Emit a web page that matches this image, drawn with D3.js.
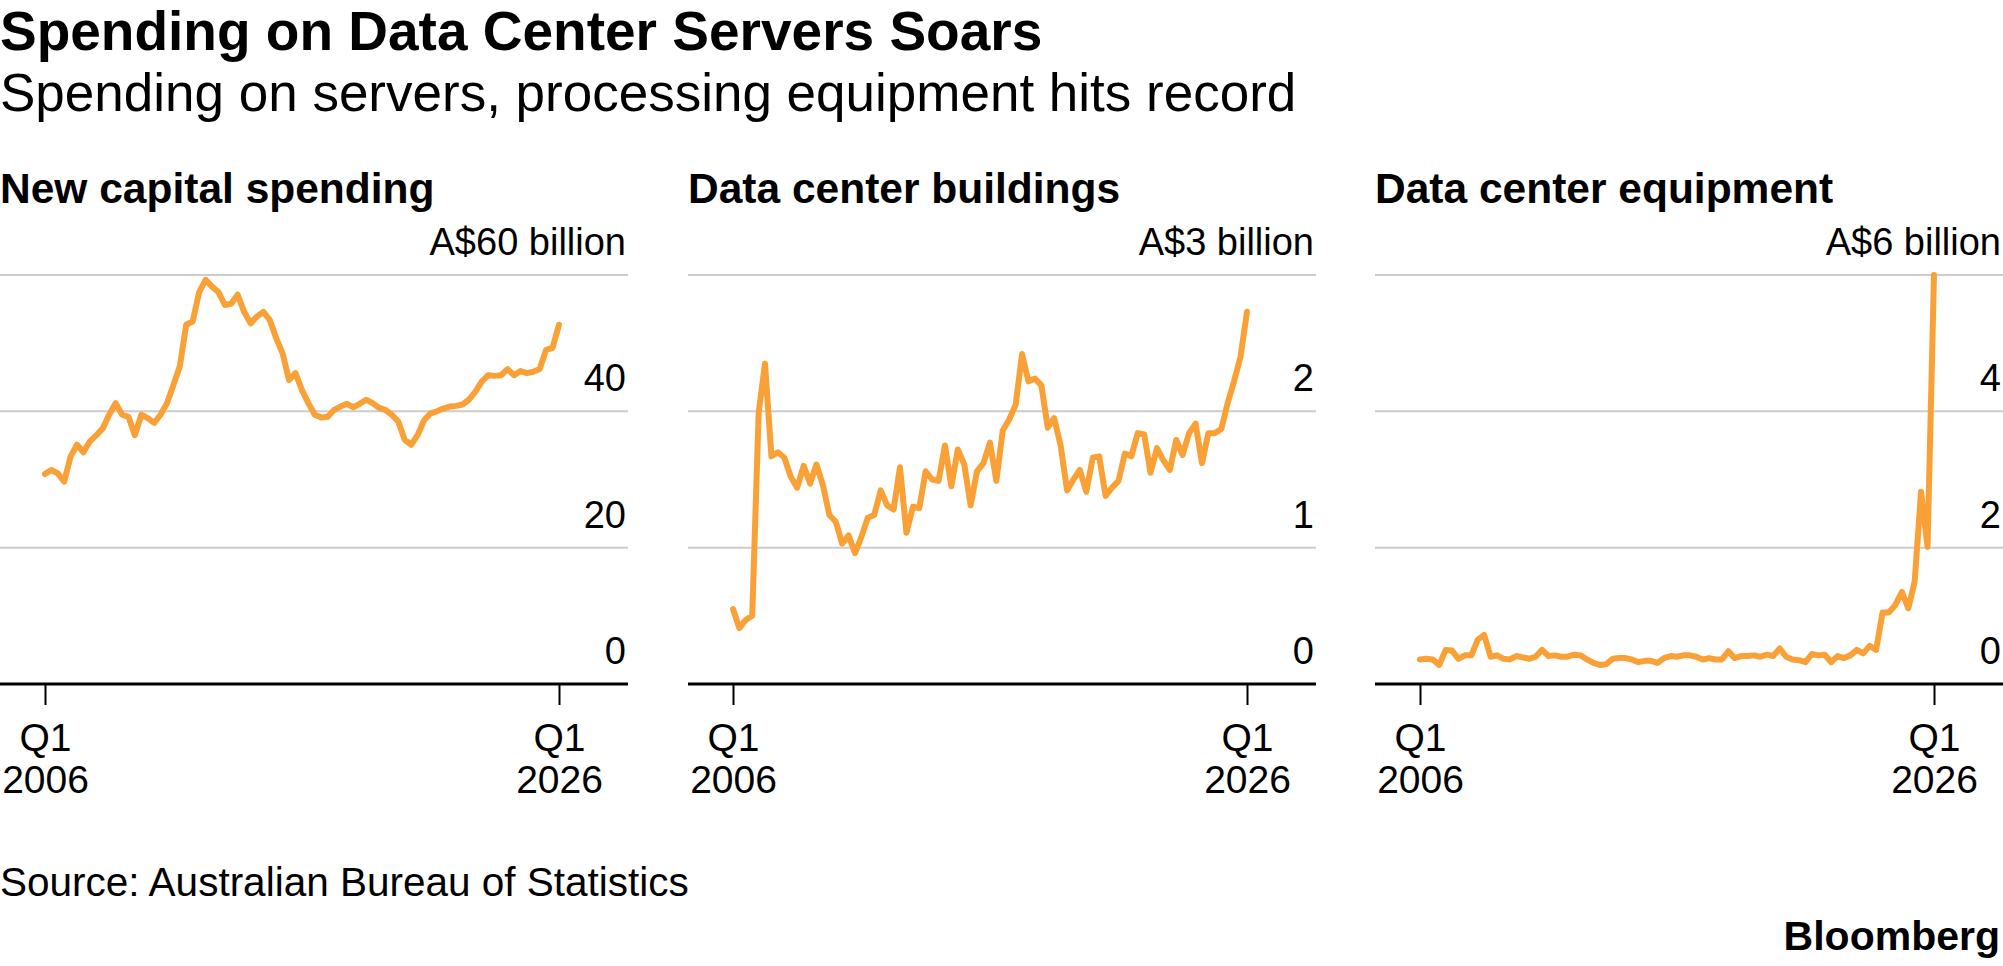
<!DOCTYPE html>
<html>
<head>
<meta charset="utf-8">
<script src="https://cdn.jsdelivr.net/npm/d3@7"></script>
<style>
  body { margin: 0; background: #fff; }
  svg { display: block; }
  text { font-family: "Liberation Sans", Arial, sans-serif; fill: #000; }
</style>
</head>
<body>
<div id="chart"></div>
<script>
// quarterly, Q1 2006 .. Q1 2026
var quarters = d3.timeMonth.every(3).range(new Date(2006, 0, 1), new Date(2026, 0, 2));

// A$ billion
var capitalSpending = [
    30.8, 31.4, 30.9, 29.7, 33.4, 35.1, 34.0, 35.6, 36.5, 37.5,
    39.5, 41.2, 39.5, 39.2, 36.5, 39.5, 39.0, 38.3, 39.5, 41.2,
    43.9, 46.6, 52.7, 53.2, 57.5, 59.3, 58.3, 57.5, 55.6, 55.8,
    57.1, 54.6, 52.9, 53.9, 54.6, 53.4, 50.7, 48.5, 44.6, 45.6,
    43.1, 41.2, 39.5, 39.1, 39.2, 40.2, 40.7, 41.1, 40.6, 41.1,
    41.7, 41.2, 40.5, 40.2, 39.5, 38.5, 35.8, 35.1, 36.5, 38.7,
    39.7, 40.0, 40.4, 40.7, 40.8, 41.0, 41.7, 42.9, 44.4, 45.3,
    45.2, 45.3, 46.2, 45.3, 45.9, 45.6, 45.8, 46.2, 49.0, 49.3,
    52.7
];
var dcBuildings = [
    0.55, 0.41, 0.47, 0.50, 1.99, 2.35, 1.67, 1.70, 1.66, 1.52,
    1.44, 1.60, 1.47, 1.61, 1.46, 1.24, 1.19, 1.03, 1.09, 0.96,
    1.08, 1.22, 1.24, 1.42, 1.31, 1.28, 1.59, 1.11, 1.30, 1.29,
    1.56, 1.50, 1.49, 1.75, 1.45, 1.72, 1.61, 1.31, 1.56, 1.62,
    1.77, 1.49, 1.86, 1.94, 2.05, 2.42, 2.22, 2.24, 2.19, 1.88,
    1.95, 1.75, 1.42, 1.50, 1.57, 1.41, 1.66, 1.67, 1.38, 1.44,
    1.49, 1.69, 1.67, 1.84, 1.83, 1.55, 1.73, 1.64, 1.57, 1.79,
    1.68, 1.84, 1.91, 1.62, 1.84, 1.84, 1.87, 2.06, 2.22, 2.40,
    2.73
];
var dcEquipment = [
    0.36, 0.37, 0.36, 0.28, 0.50, 0.49, 0.37, 0.42, 0.42, 0.65,
    0.72, 0.40, 0.42, 0.37, 0.36, 0.41, 0.39, 0.37, 0.40, 0.50,
    0.41, 0.42, 0.40, 0.40, 0.43, 0.42, 0.36, 0.31, 0.28, 0.29,
    0.37, 0.38, 0.38, 0.36, 0.32, 0.34, 0.34, 0.31, 0.38, 0.41,
    0.40, 0.42, 0.42, 0.40, 0.36, 0.38, 0.36, 0.36, 0.48, 0.38,
    0.41, 0.41, 0.42, 0.40, 0.43, 0.41, 0.52, 0.40, 0.36, 0.35,
    0.32, 0.44, 0.42, 0.43, 0.32, 0.41, 0.38, 0.42, 0.50, 0.45,
    0.56, 0.50, 1.05, 1.05, 1.16, 1.35, 1.11, 1.50, 2.82, 2.01,
    6.00
];

var panelTitles = ["New capital spending", "Data center buildings", "Data center equipment"];
var panelSeries = [capitalSpending, dcBuildings, dcEquipment];
var yTickValues = [[0, 20, 40, 60], [0, 1, 2, 3], [0, 2, 4, 6]];
var yTopLabels = ["A$60 billion", "A$3 billion", "A$6 billion"];
var xTickLabels = [["Q1", "2006"], ["Q1", "2026"]];

var width = 2003, height = 966;
var panelLeft = [0, 688, 1375];
var panelWidth = 628;
var plotLeft = 45, plotRight = 559;
var yTop = 275, yBottom = 684;
var orange = "#f9a136";

var svg = d3.select("#chart").append("svg")
    .attr("width", width)
    .attr("height", height);

svg.append("text")
    .attr("x", 0)
    .attr("y", 50)
    .attr("font-size", "55px")
    .attr("font-weight", "bold")
    .text("Spending on Data Center Servers Soars");

svg.append("text")
    .attr("x", 0)
    .attr("y", 111)
    .attr("font-size", "53px")
    .text("Spending on servers, processing equipment hits record");

panelSeries.forEach(function(series, i) {
    var ticks = yTickValues[i];
    var g = svg.append("g").attr("transform", "translate(" + panelLeft[i] + ",0)");

    var x = d3.scaleTime()
        .domain(d3.extent(quarters))
        .range([plotLeft, plotRight]);
    var y = d3.scaleLinear()
        .domain([0, d3.max(ticks)])
        .range([yBottom, yTop]);

    g.append("text")
        .attr("x", 0)
        .attr("y", 203)
        .attr("font-size", "42.5px")
        .attr("font-weight", "bold")
        .text(panelTitles[i]);

    // horizontal gridlines, zero line drawn later as the axis
    g.selectAll("line.grid")
        .data(ticks.filter(function(d) { return d > 0; }))
        .enter().append("line")
        .attr("class", "grid")
        .attr("x1", 0)
        .attr("x2", panelWidth)
        .attr("y1", function(d) { return y(d); })
        .attr("y2", function(d) { return y(d); })
        .attr("stroke", "#cccccc")
        .attr("stroke-width", 2);

    // value labels sit above their gridline, top one carries the unit
    g.selectAll("text.ylab")
        .data(ticks)
        .enter().append("text")
        .attr("class", "ylab")
        .attr("x", panelWidth - 2)
        .attr("y", function(d) { return y(d) - 20; })
        .attr("text-anchor", "end")
        .attr("font-size", "38px")
        .text(function(d, j) { return j === ticks.length - 1 ? yTopLabels[i] : d; });

    var line = d3.line()
        .x(function(d, j) { return x(quarters[j]); })
        .y(function(d) { return y(d); });

    g.append("path")
        .datum(series)
        .attr("d", line)
        .attr("fill", "none")
        .attr("stroke", orange)
        .attr("stroke-width", 6)
        .attr("stroke-linejoin", "round")
        .attr("stroke-linecap", "round");

    // x axis
    var xAxis = d3.axisBottom(x)
        .tickValues([quarters[0], quarters[quarters.length - 1]])
        .tickSize(21)
        .tickFormat("");

    var axisG = g.append("g")
        .attr("transform", "translate(0," + yBottom + ")")
        .call(xAxis);
    axisG.select(".domain").remove();
    axisG.selectAll(".tick line").attr("stroke", "#000").attr("stroke-width", 2);

    g.append("line")
        .attr("x1", 0)
        .attr("x2", panelWidth)
        .attr("y1", yBottom)
        .attr("y2", yBottom)
        .attr("stroke", "#000")
        .attr("stroke-width", 3);

    axisG.selectAll(".tick").each(function(d, j) {
        var t = d3.select(this);
        xTickLabels[j].forEach(function(s, k) {
            t.append("text")
                .attr("y", 67 + k * 42)
                .attr("text-anchor", "middle")
                .attr("font-size", "39px")
                .attr("fill", "#000")
                .text(s);
        });
    });
});

svg.append("text")
    .attr("x", 0)
    .attr("y", 896)
    .attr("font-size", "40.5px")
    .text("Source: Australian Bureau of Statistics");

svg.append("text")
    .attr("x", width - 3)
    .attr("y", 950)
    .attr("text-anchor", "end")
    .attr("font-family", "Lato, sans-serif")
    .attr("font-weight", "bold")
    .attr("font-size", "41px")
    .text("Bloomberg");
</script>
</body>
</html>
